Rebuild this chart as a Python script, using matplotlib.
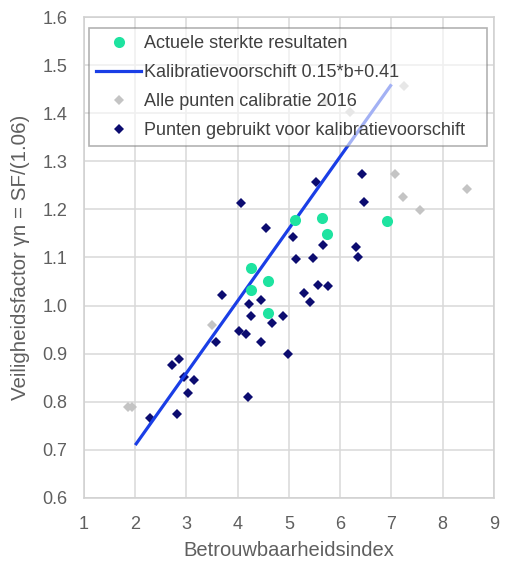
import matplotlib
matplotlib.use("Agg")
import matplotlib.pyplot as plt
from matplotlib.lines import Line2D

# ---- data ----
actual_x = [5.12, 4.26, 4.60, 4.26, 4.60, 5.65, 5.75, 6.91]
actual_y = [1.177, 1.079, 1.052, 1.032, 0.984, 1.182, 1.149, 1.175]

calib_x = [2.0, 7.0]
calib_y = [0.71, 1.46]

all_x = [1.86, 1.93, 3.50, 5.72, 6.19, 7.07, 7.23, 7.25, 7.56, 8.47]
all_y = [0.789, 0.789, 0.960, 1.423, 1.402, 1.273, 1.225, 1.457, 1.199, 1.242]

used_x = [4.06, 4.55, 5.08, 5.14, 3.69, 4.21, 4.46, 4.25, 4.66, 4.88,
          4.03, 4.17, 3.57, 4.46, 4.98, 4.20, 2.86, 2.72, 2.96, 3.15,
          3.02, 2.28, 2.81, 5.52, 6.42, 6.46, 5.46, 5.66, 6.31, 6.35,
          5.57, 5.76, 5.30, 5.40]
used_y = [1.213, 1.161, 1.143, 1.097, 1.021, 1.003, 1.012, 0.979, 0.964, 0.979,
          0.948, 0.941, 0.925, 0.924, 0.899, 0.809, 0.890, 0.876, 0.852, 0.845,
          0.818, 0.766, 0.775, 1.256, 1.273, 1.215, 1.098, 1.127, 1.122, 1.102,
          1.043, 1.041, 1.027, 1.008]

x_ticks = [1, 2, 3, 4, 5, 6, 7, 8, 9]
y_ticks = [0.6, 0.7, 0.8, 0.9, 1.0, 1.1, 1.2, 1.3, 1.4, 1.5, 1.6]

labels = ["Actuele sterkte resultaten",
          "Kalibratievoorschift 0.15*b+0.41",
          "Alle punten calibratie 2016",
          "Punten gebruikt voor kalibratievoorschift"]

# ---- style ----
plt.rcParams['font.family'] = ['Liberation Sans', 'DejaVu Sans']
C_GREEN = '#1ee3a0'
C_BLUE = '#1a3ee6'
C_GRAY = '#c4c4c4'
C_NAVY = '#0c0c70'
TXT = '#5f5f5f'

fig = plt.figure(figsize=(5.15, 5.64), dpi=100)
ax = fig.add_axes([84/515, 1-498/564, (494-84)/515, (498-17)/564])

ax.plot(all_x, all_y, linestyle='none', marker='D', markersize=4.8,
        color=C_GRAY, markeredgewidth=0, zorder=3)
ax.plot(used_x, used_y, linestyle='none', marker='D', markersize=5.4,
        color=C_NAVY, markeredgewidth=0, zorder=4)
ax.plot(calib_x, calib_y, color=C_BLUE, linewidth=2.3,
        solid_capstyle='butt', zorder=5)
ax.plot(actual_x, actual_y, linestyle='none', marker='o', markersize=8,
        color=C_GREEN, markeredgewidth=0, zorder=6)

ax.set_xlim(1, 9)
ax.set_ylim(0.6, 1.6)
ax.set_xticks(x_ticks)
ax.set_xticklabels([str(v) for v in x_ticks])
ax.set_yticks(y_ticks)
ax.set_yticklabels([f"{v:.1f}" for v in y_ticks])
ax.tick_params(axis='x', length=0, labelsize=13, colors=TXT, pad=13)
ax.tick_params(axis='y', length=0, labelsize=13, colors=TXT, pad=12)
ax.grid(True, color='#d9d9d9', linewidth=1.1)
ax.set_axisbelow(True)
for s in ax.spines.values():
    s.set_color('#d0d0d0')
    s.set_linewidth(1.1)

ax.set_xlabel("Betrouwbaarheidsindex", fontsize=14.5, color=TXT, labelpad=6)
ax.set_ylabel("Veiligheidsfactor γn = SF/(1.06)", fontsize=14.8, color=TXT, labelpad=9)

handles = [
    Line2D([], [], linestyle='none', marker='o', markersize=8, color=C_GREEN, markeredgewidth=0),
    Line2D([], [], color=C_BLUE, linewidth=2.3),
    Line2D([], [], linestyle='none', marker='D', markersize=4.8, color=C_GRAY, markeredgewidth=0),
    Line2D([], [], linestyle='none', marker='D', markersize=5.4, color=C_NAVY, markeredgewidth=0),
]
leg = ax.legend(handles, labels, loc='upper left',
                bbox_to_anchor=(89/515, 1-142/564, 398/515, 114/564),
                bbox_transform=fig.transFigure, mode='expand', borderaxespad=0,
                fontsize=13, frameon=True, fancybox=False, framealpha=0.6,
                edgecolor='#808080', handlelength=2.5, handletextpad=0.15,
                labelspacing=0.66, borderpad=0.4, labelcolor='#404040')
leg.get_frame().set_linewidth(1.2)
leg.set_zorder(10)

fig.savefig("out.png", dpi=100)
